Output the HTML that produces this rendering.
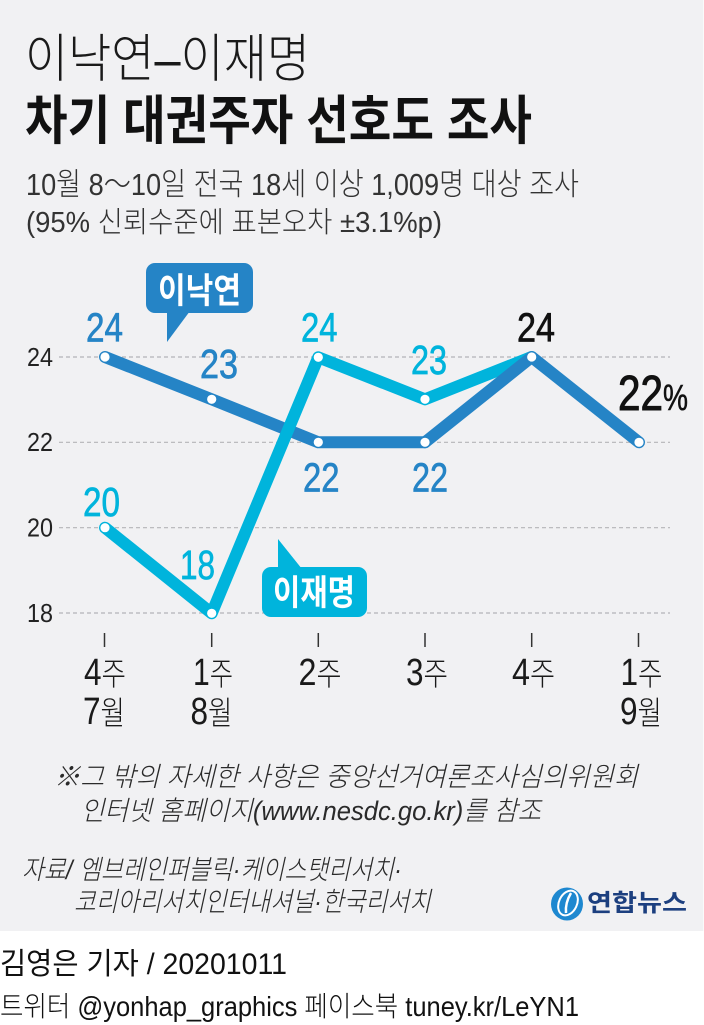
<!DOCTYPE html>
<html><head><meta charset="utf-8"><style>
html,body{margin:0;padding:0;background:#fff}
svg{display:block}
text{font-family:"Liberation Sans","Noto Sans CJK KR",sans-serif}
</style></head><body>
<svg width="704" height="1025" viewBox="0 0 704 1025" xmlns="http://www.w3.org/2000/svg">
<rect x="0" y="0" width="704" height="931" fill="#f1f1f3"/>
<rect x="703" y="0" width="1" height="931" fill="#fafafa"/>

<!-- titles -->
<text x="25" y="77" font-size="52" font-weight="200" fill="#1a1a1a" textLength="285" lengthAdjust="spacingAndGlyphs">이낙연–이재명</text>
<text x="25" y="139" font-size="53" font-weight="700" fill="#111" textLength="507" lengthAdjust="spacingAndGlyphs">차기 대권주자 선호도 조사</text>
<text x="26" y="195" font-size="31" font-weight="300" fill="#333" textLength="553" lengthAdjust="spacingAndGlyphs">10월 8～10일 전국 18세 이상 1,009명 대상 조사</text>
<text x="26" y="232" font-size="29" font-weight="300" fill="#333" textLength="416" lengthAdjust="spacingAndGlyphs">(95% 신뢰수준에 표본오차 ±3.1%p)</text>

<!-- gridlines -->
<g stroke="#b4b4b8" stroke-width="1.2" stroke-dasharray="4 3">
<line x1="59" y1="357" x2="670" y2="357"/>
<line x1="59" y1="442.3" x2="670" y2="442.3"/>
<line x1="59" y1="527.7" x2="670" y2="527.7"/>
<line x1="59" y1="613" x2="670" y2="613"/>
</g>
<g font-size="26" fill="#222" font-weight="300">
<text x="27" y="366" textLength="26" lengthAdjust="spacingAndGlyphs">24</text>
<text x="27" y="451" textLength="26" lengthAdjust="spacingAndGlyphs">22</text>
<text x="27" y="536.5" textLength="26" lengthAdjust="spacingAndGlyphs">20</text>
<text x="27" y="622" textLength="26" lengthAdjust="spacingAndGlyphs">18</text>
</g>

<!-- ticks -->
<g stroke="#333" stroke-width="1.5">
<line x1="104.5" y1="633" x2="104.5" y2="647"/>
<line x1="211.7" y1="633" x2="211.7" y2="647"/>
<line x1="318.3" y1="633" x2="318.3" y2="647"/>
<line x1="425" y1="633" x2="425" y2="647"/>
<line x1="531.7" y1="633" x2="531.7" y2="647"/>
<line x1="638.5" y1="633" x2="638.5" y2="647"/>
</g>
<g font-size="32" fill="#1a1a1a" font-weight="300" text-anchor="middle">
<text x="105" y="685" textLength="42" lengthAdjust="spacingAndGlyphs"><tspan font-size="38">4</tspan>주</text>
<text x="104" y="724" textLength="42" lengthAdjust="spacingAndGlyphs"><tspan font-size="38">7</tspan>월</text>
<text x="213" y="685" textLength="40" lengthAdjust="spacingAndGlyphs"><tspan font-size="38">1</tspan>주</text>
<text x="211.5" y="724" textLength="42" lengthAdjust="spacingAndGlyphs"><tspan font-size="38">8</tspan>월</text>
<text x="320" y="685" textLength="43" lengthAdjust="spacingAndGlyphs"><tspan font-size="38">2</tspan>주</text>
<text x="427" y="685" textLength="42" lengthAdjust="spacingAndGlyphs"><tspan font-size="38">3</tspan>주</text>
<text x="533.5" y="685" textLength="43" lengthAdjust="spacingAndGlyphs"><tspan font-size="38">4</tspan>주</text>
<text x="641.5" y="685" textLength="42" lengthAdjust="spacingAndGlyphs"><tspan font-size="38">1</tspan>주</text>
<text x="641" y="724" textLength="42" lengthAdjust="spacingAndGlyphs"><tspan font-size="38">9</tspan>월</text>
</g>

<!-- lines -->
<g fill="none" stroke-width="12" stroke-linecap="round" stroke-linejoin="round">
<polyline points="105,357 211.7,399.3 318.3,442.3 425,442.3" stroke="#2584c6"/>
<polyline points="105,527.7 211.7,613.3 318.3,357.3 425,399.3 531.7,357" stroke="#00b4dc"/>
<polyline points="425,442.3 531.7,357 639,442.3" stroke="#2584c6"/>
</g>
<g fill="#fff">
<circle cx="105" cy="357" r="4.6"/>
<circle cx="211.7" cy="399.3" r="4.6"/>
<circle cx="318.3" cy="442.3" r="4.6"/>
<circle cx="425" cy="442.3" r="4.6"/>
<circle cx="531.7" cy="357" r="4.6"/>
<circle cx="639" cy="442.3" r="4.6"/>
<circle cx="105" cy="527.7" r="4.6"/>
<circle cx="211.7" cy="613.3" r="4.6"/>
<circle cx="318.3" cy="357.3" r="4.6"/>
<circle cx="425" cy="399.3" r="4.6"/>
</g>

<!-- value labels -->
<g font-size="41" stroke-width="0.7">
<text x="86" y="341.7" fill="#2584c6" stroke="#2584c6" textLength="37" lengthAdjust="spacingAndGlyphs">24</text>
<text x="200" y="378" fill="#2584c6" stroke="#2584c6" textLength="38" lengthAdjust="spacingAndGlyphs">23</text>
<text x="301" y="341.7" fill="#00b4dc" stroke="#00b4dc" textLength="36.5" lengthAdjust="spacingAndGlyphs">24</text>
<text x="411" y="374" fill="#00b4dc" stroke="#00b4dc" textLength="36" lengthAdjust="spacingAndGlyphs">23</text>
<text x="303" y="491.7" fill="#2584c6" stroke="#2584c6" textLength="36.5" lengthAdjust="spacingAndGlyphs">22</text>
<text x="412" y="491.7" fill="#2584c6" stroke="#2584c6" textLength="36" lengthAdjust="spacingAndGlyphs">22</text>
<text x="517" y="341.7" fill="#111" stroke="#111" textLength="38" lengthAdjust="spacingAndGlyphs">24</text>
<text x="83" y="516" fill="#00b4dc" stroke="#00b4dc" textLength="37" lengthAdjust="spacingAndGlyphs">20</text>
<text x="180" y="579" fill="#00b4dc" stroke="#00b4dc" textLength="35" lengthAdjust="spacingAndGlyphs">18</text>
</g>
<text x="618" y="410" font-size="49" fill="#111" stroke="#111" stroke-width="1" textLength="45" lengthAdjust="spacingAndGlyphs">22</text>
<text x="663" y="410" font-size="36" fill="#111" stroke="#111" stroke-width="0.6" textLength="25" lengthAdjust="spacingAndGlyphs">%</text>

<!-- bubbles -->
<rect x="146" y="263" width="107" height="50" rx="9" fill="#2584c6"/>
<polygon points="167,311 190,311 167,342" fill="#2584c6"/>
<text x="158" y="303" font-size="35" font-weight="700" fill="#fff" textLength="83" lengthAdjust="spacingAndGlyphs">이낙연</text>

<rect x="262" y="567" width="105" height="50" rx="9" fill="#00b4dc"/>
<polygon points="278,539 278,569 302,569" fill="#00b4dc"/>
<text x="273" y="605" font-size="35" font-weight="700" fill="#fff" textLength="82" lengthAdjust="spacingAndGlyphs">이재명</text>

<!-- notes -->
<g font-size="27" fill="#2a2a2a" font-style="italic" font-weight="300">
<text x="54" y="786" textLength="584" lengthAdjust="spacingAndGlyphs">※그 밖의 자세한 사항은 중앙선거여론조사심의위원회</text>
<text x="81" y="820" textLength="460" lengthAdjust="spacingAndGlyphs">인터넷 홈페이지(www.nesdc.go.kr)를 참조</text>
<text x="22" y="879" textLength="380" lengthAdjust="spacingAndGlyphs">자료/ 엠브레인퍼블릭·케이스탯리서치·</text>
<text x="74" y="911" textLength="357" lengthAdjust="spacingAndGlyphs">코리아리서치인터내셔널·한국리서치</text>
</g>

<!-- logo -->
<ellipse cx="567" cy="904" rx="16" ry="16.5" fill="#1e88d0"/>
<ellipse cx="568" cy="903" rx="9" ry="13" fill="none" stroke="#fff" stroke-width="2" transform="rotate(25 568 903)"/>
<path d="M571 893 q-6 10 -5 20" stroke="#fff" stroke-width="2.5" fill="none"/>
<text x="587" y="911" font-size="24" font-weight="700" fill="#1c3f7f" textLength="100" lengthAdjust="spacingAndGlyphs">연합뉴스</text>

<!-- credits -->
<text x="0" y="974" font-size="30" fill="#111" textLength="287" lengthAdjust="spacingAndGlyphs">김영은 기자 / 20201011</text>
<text x="0" y="1016" font-size="28" fill="#111" font-weight="300" textLength="579" lengthAdjust="spacingAndGlyphs">트위터 @yonhap_graphics  페이스북 tuney.kr/LeYN1</text>
</svg>
</body></html>
